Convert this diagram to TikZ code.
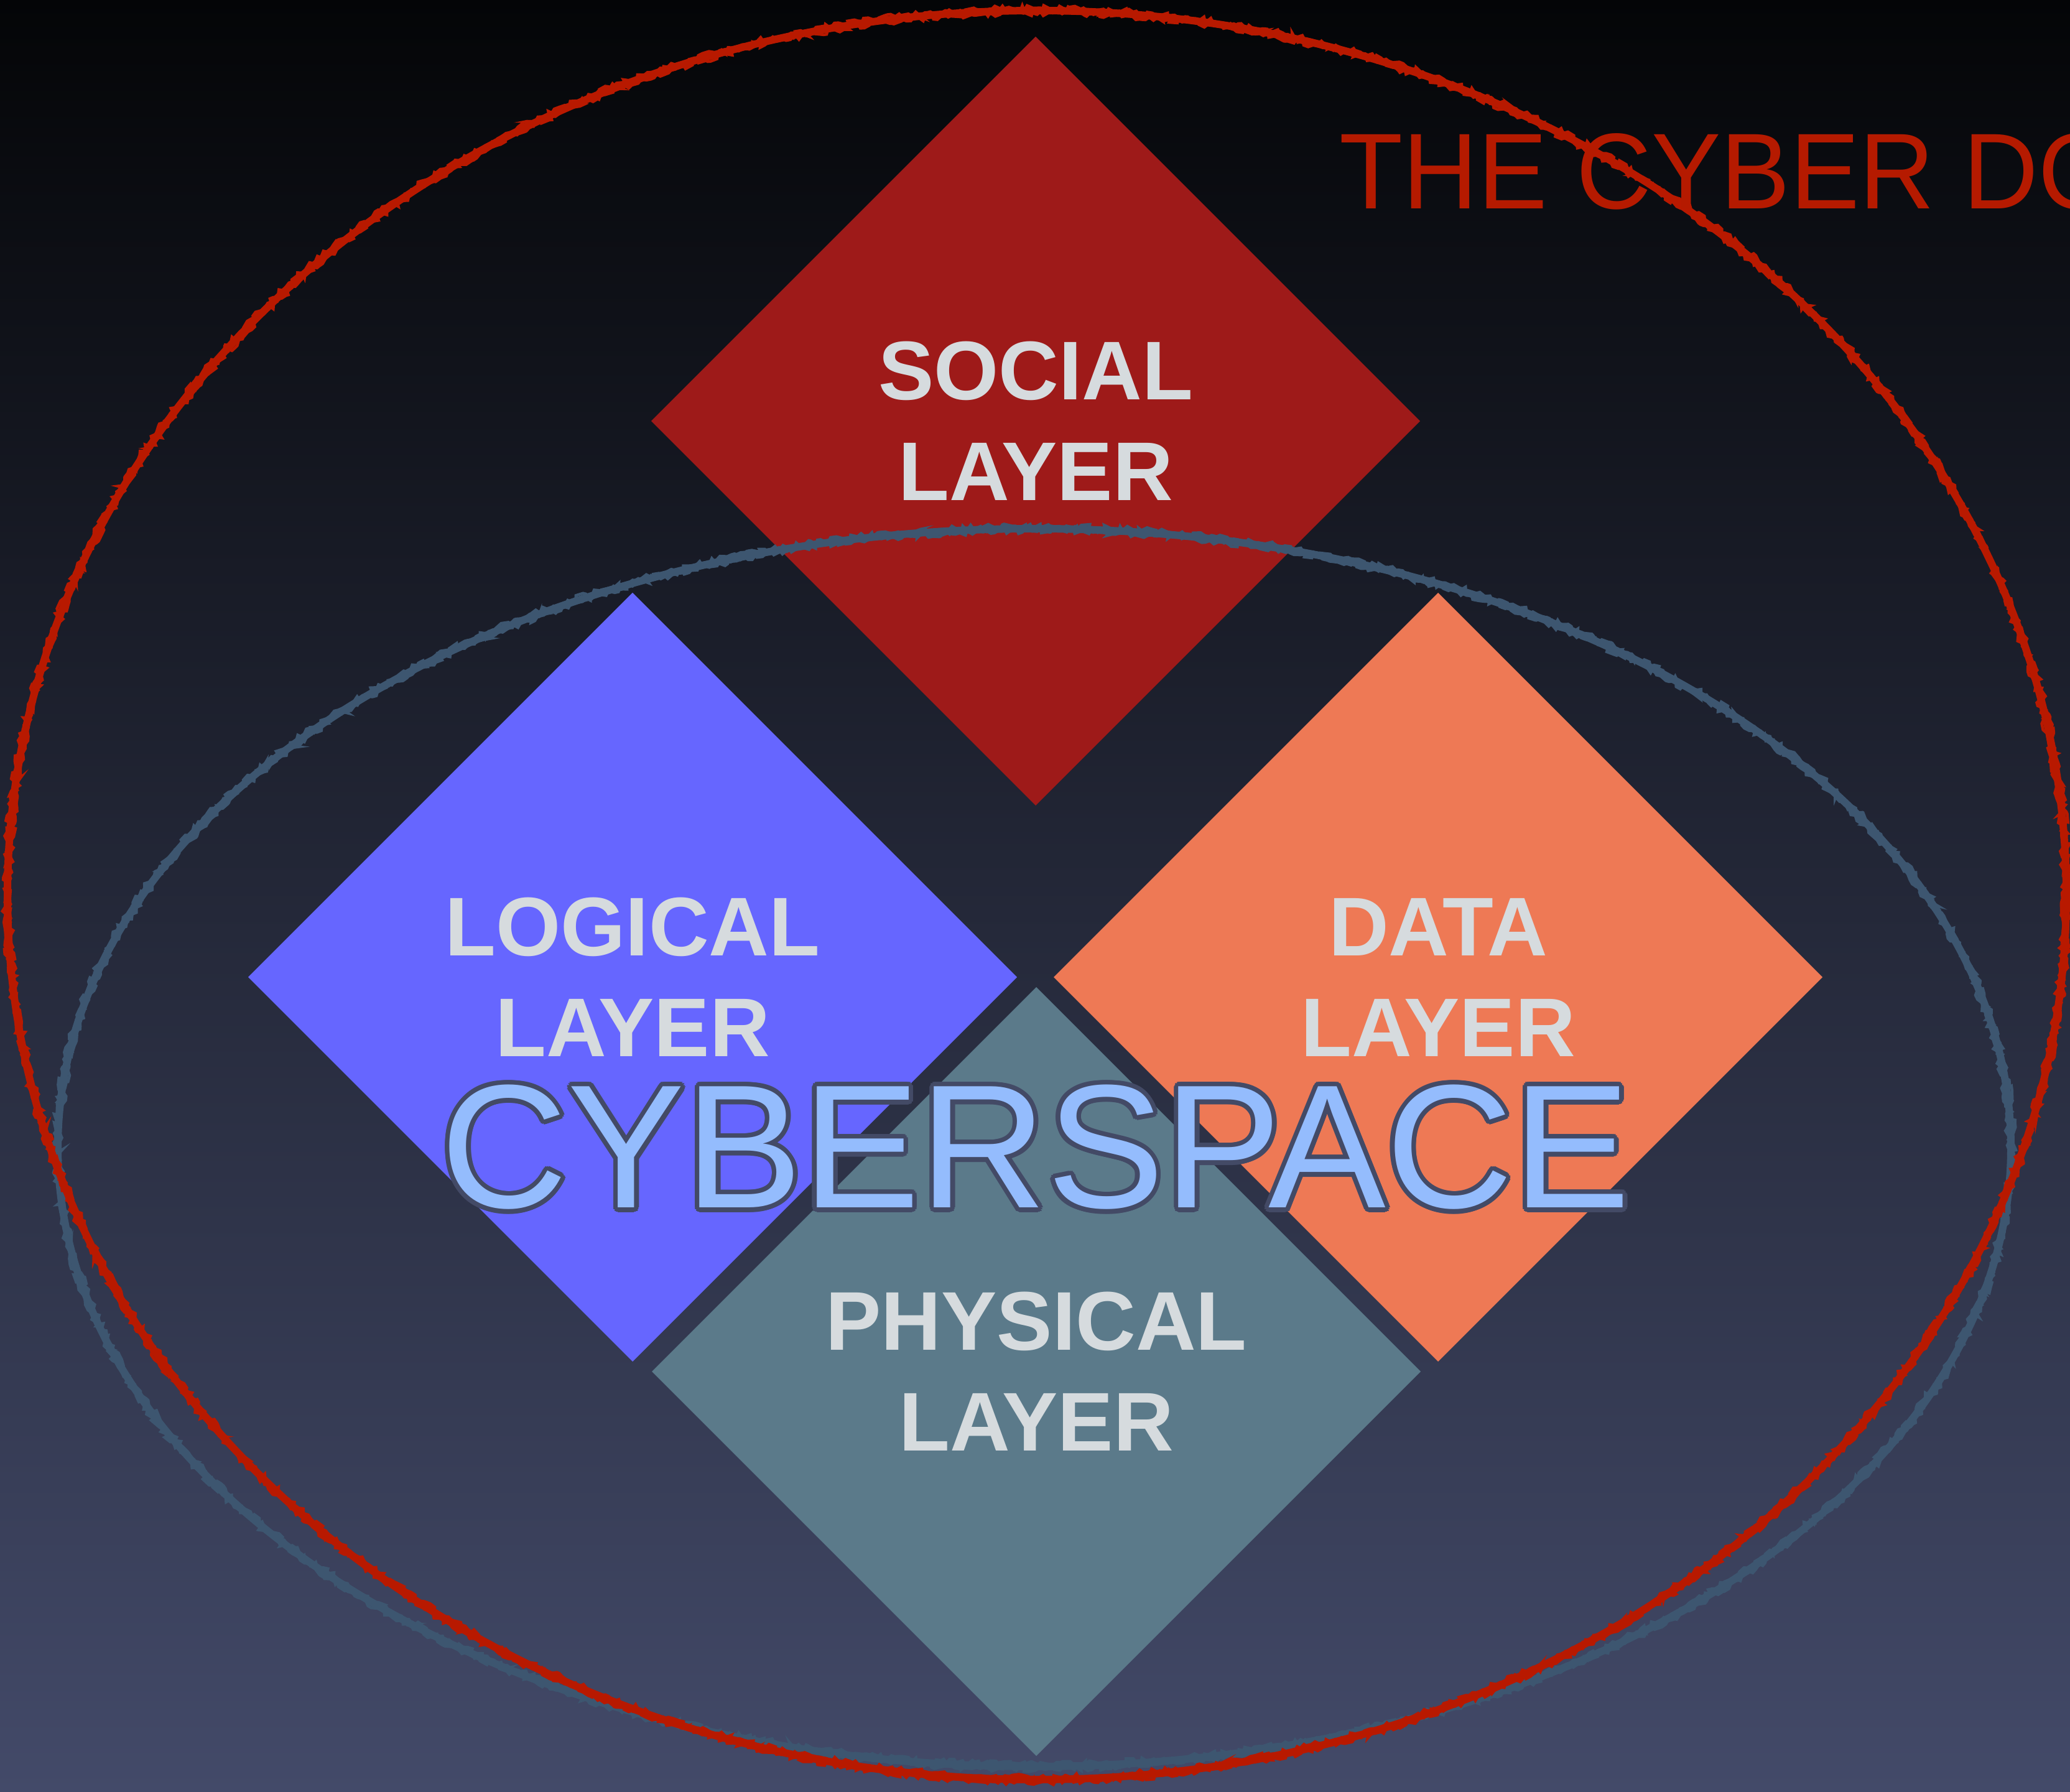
\documentclass[tikz,border=0pt]{standalone}
\usepackage{graphicx}
\usepackage{fontspec}
\setmainfont{Liberation Sans}
\usetikzlibrary{shapes.geometric,decorations.pathmorphing}

\definecolor{bgtop}{HTML}{040507}
\definecolor{bgbot}{HTML}{434A69}
\definecolor{socialred}{HTML}{9E1A19}
\definecolor{logicalblue}{HTML}{6666FF}
\definecolor{dataorange}{HTML}{EE7955}
\definecolor{physicalslate}{HTML}{5B7A8A}
\definecolor{labelgray}{HTML}{D6DBDE}
\definecolor{ringred}{HTML}{B81900}
\definecolor{ringblue}{HTML}{3D5670}
\definecolor{titlered}{HTML}{B51A00}
\definecolor{cyberfill}{HTML}{94BCFD}
\definecolor{cyberedge}{HTML}{434A66}

\begin{document}
\begin{tikzpicture}[
  layerbox/.style={diamond, aspect=1, minimum size=12.36cm, inner sep=0pt,
    outer sep=0pt, draw=none, text=labelgray, align=center,
    font=\fontsize{38.1pt}{46.1pt}\selectfont\bfseries},
  chalk/.style={line width=0.12cm},
  chalkrough/.style={line width=0.045cm, decorate,
    decoration={random steps, segment length=0.06cm, amplitude=0.045cm}},
  cyberword/.style={inner sep=0pt, outer sep=0pt,
    font=\fontsize{80.5pt}{90pt}\selectfont},
  titletext/.style={anchor=base west, inner sep=0pt, text=titlered,
    font=\fontsize{49.3pt}{60pt}\selectfont}
]
\pgfmathsetseed{7}
\useasboundingbox (0,0) rectangle (33.28,28.8);
\clip (0,0) rectangle (33.28,28.8);

% background gradient
\shade[top color=bgtop, bottom color=bgbot] (0,0) rectangle (33.28,28.8);

% the four layers
\node[layerbox, fill=socialred]     (social)   at (16.65,22.03) {SOCIAL\\LAYER};
\node[layerbox, fill=logicalblue]   (logical)  at (10.17,13.09) {LOGICAL\\LAYER};
\node[layerbox, fill=dataorange]    (data)     at (23.12,13.09) {DATA\\LAYER};
\node[layerbox, fill=physicalslate] (physical) at (16.66,6.75)  {PHYSICAL\\LAYER};

% cyberspace ring, drawn as a rough chalk stroke
\draw[chalk, ringblue] (16.63,10.35) ellipse [x radius=15.70, y radius=9.95];
\foreach \d in {-0.04,0,0.04}
  \draw[chalkrough, ringblue] (16.63,10.35) ellipse [x radius=15.70+\d, y radius=9.95+\d];

% cyber domain ring
\draw[chalk, ringred] (16.67,14.41) ellipse [x radius=16.55, y radius=14.22];
\foreach \d in {-0.04,0,0.04}
  \draw[chalkrough, ringred] (16.67,14.41) ellipse [x radius=16.55+\d, y radius=14.22+\d];

% outlined word: dark copies around, light face on top
\foreach \a [count=\i] in {0,22.5,...,337.5}
  \node[cyberword, text=cyberedge] (cyberedge\i) at ([shift={(\a:0.075)}]16.65,10.355) {CYBERSPACE};
\node[cyberword, text=cyberfill] (cyberspace) at (16.65,10.355) {CYBERSPACE};

% title, running off the right edge
\node[titletext] (title) at (21.53,25.44) {\scalebox{0.965}[1]{THE CYBER DOMAIN}};
\end{tikzpicture}
\end{document}
